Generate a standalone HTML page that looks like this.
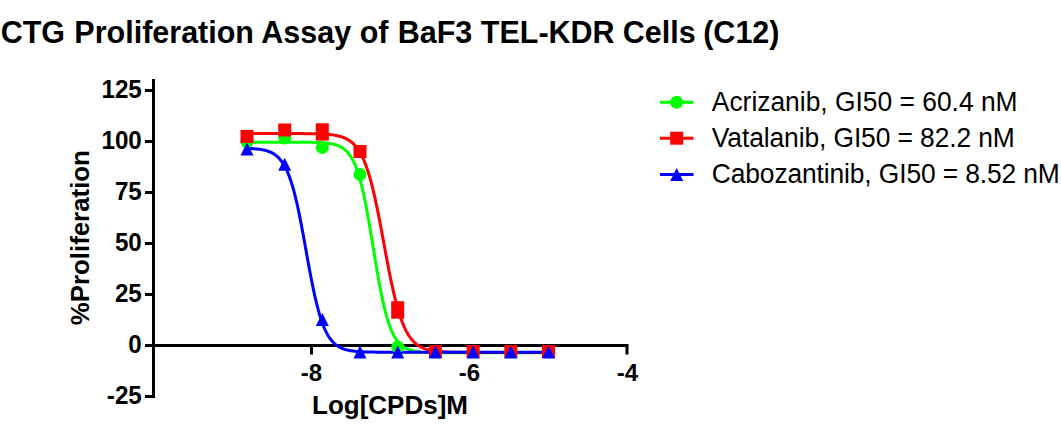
<!DOCTYPE html>
<html><head><meta charset="utf-8"><style>
html,body{margin:0;padding:0;background:#fff;width:1061px;height:428px;overflow:hidden}
svg{display:block}
text{font-family:"Liberation Sans",sans-serif;fill:#000}
.b{font-weight:bold}
</style></head><body>
<svg width="1061" height="428" viewBox="0 0 1061 428">
<text x="0.7" y="43.3" class="b" font-size="30.5">CTG<tspan dx="0.8"> Proliferation Assay of</tspan><tspan dx="0.8"> BaF3 TEL-KDR</tspan><tspan dx="-0.4"> Cells</tspan><tspan dx="-0.9"> (C12)</tspan></text>
<path d="M153.5,79 V398 M145,90.5 H153.5 M145,141.5 H153.5 M145,192.5 H153.5 M145,243.5 H153.5 M145,294.5 H153.5 M145,345.5 H153.5 M145,396.5 H153.5" stroke="#000" stroke-width="3" fill="none" stroke-linecap="butt"/>
<path d="M152,345.5 H628.5 M311.5,345.5 V354.5 M469.5,345.5 V354.5 M627,345.5 V354.5" stroke="#000" stroke-width="3" fill="none"/>
<text transform="translate(141.8,97.80) scale(1,1.03)" class="b" font-size="24.2" text-anchor="end">125</text>
<text transform="translate(141.8,148.80) scale(1,1.03)" class="b" font-size="24.2" text-anchor="end">100</text>
<text transform="translate(141.8,199.80) scale(1,1.03)" class="b" font-size="24.2" text-anchor="end">75</text>
<text transform="translate(141.8,250.80) scale(1,1.03)" class="b" font-size="24.2" text-anchor="end">50</text>
<text transform="translate(141.8,301.80) scale(1,1.03)" class="b" font-size="24.2" text-anchor="end">25</text>
<text transform="translate(141.8,352.80) scale(1,1.03)" class="b" font-size="24.2" text-anchor="end">0</text>
<text transform="translate(141.8,403.80) scale(1,1.03)" class="b" font-size="24.2" text-anchor="end">-25</text>
<text x="311.5" y="380.5" class="b" font-size="24" text-anchor="middle">-8</text>
<text x="469.5" y="380.5" class="b" font-size="24" text-anchor="middle">-6</text>
<text x="627.5" y="380.5" class="b" font-size="24" text-anchor="middle">-4</text>
<text x="390" y="413.8" class="b" font-size="26" text-anchor="middle">Log[CPDs]M</text>
<text transform="translate(88.5,237.7) rotate(-90)" class="b" font-size="25.85" text-anchor="middle">%Proliferation</text>
<path d="M246.96,142.21 L247.96,142.21 L248.97,142.21 L249.97,142.21 L250.98,142.21 L251.99,142.21 L252.99,142.21 L254.00,142.21 L255.00,142.21 L256.01,142.21 L257.01,142.21 L258.02,142.21 L259.02,142.21 L260.03,142.21 L261.03,142.21 L262.04,142.21 L263.04,142.21 L264.05,142.21 L265.05,142.21 L266.06,142.21 L267.06,142.21 L268.07,142.22 L269.07,142.22 L270.08,142.22 L271.08,142.22 L272.09,142.22 L273.09,142.22 L274.10,142.22 L275.10,142.22 L276.11,142.22 L277.11,142.22 L278.12,142.22 L279.12,142.22 L280.13,142.22 L281.13,142.22 L282.14,142.22 L283.14,142.22 L284.15,142.22 L285.15,142.22 L286.16,142.22 L287.16,142.22 L288.17,142.22 L289.18,142.23 L290.18,142.23 L291.19,142.23 L292.19,142.23 L293.20,142.23 L294.20,142.24 L295.21,142.24 L296.21,142.24 L297.22,142.24 L298.22,142.25 L299.23,142.25 L300.23,142.26 L301.24,142.26 L302.24,142.27 L303.25,142.27 L304.25,142.28 L305.26,142.29 L306.26,142.30 L307.27,142.31 L308.27,142.32 L309.28,142.34 L310.28,142.35 L311.29,142.37 L312.29,142.39 L313.30,142.41 L314.30,142.43 L315.31,142.46 L316.31,142.49 L317.32,142.53 L318.32,142.56 L319.33,142.61 L320.33,142.66 L321.34,142.71 L322.34,142.77 L323.35,142.84 L324.35,142.92 L325.36,143.01 L326.37,143.11 L327.37,143.22 L328.38,143.34 L329.38,143.48 L330.39,143.64 L331.39,143.81 L332.40,144.01 L333.40,144.23 L334.41,144.48 L335.41,144.75 L336.42,145.07 L337.42,145.42 L338.43,145.81 L339.43,146.24 L340.44,146.74 L341.44,147.28 L342.45,147.90 L343.45,148.58 L344.46,149.35 L345.46,150.20 L346.47,151.15 L347.47,152.21 L348.48,153.39 L349.48,154.69 L350.49,156.14 L351.49,157.75 L352.50,159.52 L353.50,161.47 L354.51,163.62 L355.51,165.99 L356.52,168.57 L357.52,171.39 L358.53,174.47 L359.53,177.80 L360.54,181.40 L361.54,185.28 L362.55,189.43 L363.56,193.86 L364.56,198.56 L365.57,203.53 L366.57,208.75 L367.58,214.19 L368.58,219.84 L369.59,225.67 L370.59,231.64 L371.60,237.72 L372.60,243.86 L373.61,250.03 L374.61,256.18 L375.62,262.27 L376.62,268.27 L377.63,274.12 L378.63,279.81 L379.64,285.30 L380.64,290.56 L381.65,295.57 L382.65,300.33 L383.66,304.81 L384.66,309.02 L385.67,312.94 L386.67,316.60 L387.68,319.98 L388.68,323.10 L389.69,325.97 L390.69,328.60 L391.70,331.00 L392.70,333.19 L393.71,335.18 L394.71,336.99 L395.72,338.62 L396.72,340.10 L397.73,341.43 L398.73,342.63 L399.74,343.71 L400.75,344.69 L401.75,345.56 L402.76,346.34 L403.76,347.04 L404.77,347.66 L405.77,348.22 L406.78,348.72 L407.78,349.17 L408.79,349.57 L409.79,349.93 L410.80,350.25 L411.80,350.53 L412.81,350.78 L413.81,351.01 L414.82,351.21 L415.82,351.39 L416.83,351.55 L417.83,351.69 L418.84,351.82 L419.84,351.93 L420.85,352.03 L421.85,352.12 L422.86,352.20 L423.86,352.27 L424.87,352.34 L425.87,352.39 L426.88,352.44 L427.88,352.49 L428.89,352.53 L429.89,352.56 L430.90,352.59 L431.90,352.62 L432.91,352.64 L433.91,352.67 L434.92,352.69 L435.92,352.70 L436.93,352.72 L437.94,352.73 L438.94,352.75 L439.95,352.76 L440.95,352.77 L441.96,352.77 L442.96,352.78 L443.97,352.79 L444.97,352.80 L445.98,352.80 L446.98,352.81 L447.99,352.81 L448.99,352.81 L450.00,352.82 L451.00,352.82 L452.01,352.82 L453.01,352.82 L454.02,352.83 L455.02,352.83 L456.03,352.83 L457.03,352.83 L458.04,352.83 L459.04,352.83 L460.05,352.84 L461.05,352.84 L462.06,352.84 L463.06,352.84 L464.07,352.84 L465.07,352.84 L466.08,352.84 L467.08,352.84 L468.09,352.84 L469.09,352.84 L470.10,352.84 L471.10,352.84 L472.11,352.84 L473.11,352.84 L474.12,352.84 L475.13,352.84 L476.13,352.84 L477.14,352.84 L478.14,352.84 L479.15,352.84 L480.15,352.84 L481.16,352.84 L482.16,352.84 L483.17,352.84 L484.17,352.84 L485.18,352.84 L486.18,352.84 L487.19,352.84 L488.19,352.84 L489.20,352.84 L490.20,352.84 L491.21,352.84 L492.21,352.84 L493.22,352.84 L494.22,352.84 L495.23,352.84 L496.23,352.84 L497.24,352.84 L498.24,352.84 L499.25,352.84 L500.25,352.84 L501.26,352.84 L502.26,352.84 L503.27,352.84 L504.27,352.84 L505.28,352.84 L506.28,352.84 L507.29,352.84 L508.29,352.84 L509.30,352.84 L510.30,352.84 L511.31,352.84 L512.32,352.84 L513.32,352.84 L514.33,352.84 L515.33,352.84 L516.34,352.84 L517.34,352.84 L518.35,352.84 L519.35,352.84 L520.36,352.84 L521.36,352.84 L522.37,352.84 L523.37,352.84 L524.38,352.84 L525.38,352.84 L526.39,352.84 L527.39,352.84 L528.40,352.84 L529.40,352.84 L530.41,352.84 L531.41,352.84 L532.42,352.84 L533.42,352.84 L534.43,352.84 L535.43,352.84 L536.44,352.84 L537.44,352.84 L538.45,352.84 L539.45,352.84 L540.46,352.84 L541.46,352.84 L542.47,352.84 L543.47,352.84 L544.48,352.84 L545.48,352.84 L546.49,352.84 L547.49,352.84 L548.50,352.84" stroke="#00ff00" stroke-width="3" fill="none"/>
<path d="M246.96,133.54 L247.96,133.54 L248.97,133.54 L249.97,133.54 L250.98,133.54 L251.99,133.54 L252.99,133.54 L254.00,133.54 L255.00,133.54 L256.01,133.54 L257.01,133.54 L258.02,133.54 L259.02,133.54 L260.03,133.55 L261.03,133.55 L262.04,133.55 L263.04,133.55 L264.05,133.55 L265.05,133.55 L266.06,133.55 L267.06,133.55 L268.07,133.55 L269.07,133.55 L270.08,133.55 L271.08,133.55 L272.09,133.55 L273.09,133.55 L274.10,133.55 L275.10,133.55 L276.11,133.55 L277.11,133.55 L278.12,133.55 L279.12,133.55 L280.13,133.55 L281.13,133.55 L282.14,133.55 L283.14,133.55 L284.15,133.56 L285.15,133.56 L286.16,133.56 L287.16,133.56 L288.17,133.56 L289.18,133.56 L290.18,133.56 L291.19,133.57 L292.19,133.57 L293.20,133.57 L294.20,133.57 L295.21,133.58 L296.21,133.58 L297.22,133.59 L298.22,133.59 L299.23,133.59 L300.23,133.60 L301.24,133.61 L302.24,133.61 L303.25,133.62 L304.25,133.63 L305.26,133.64 L306.26,133.64 L307.27,133.66 L308.27,133.67 L309.28,133.68 L310.28,133.69 L311.29,133.71 L312.29,133.73 L313.30,133.75 L314.30,133.77 L315.31,133.79 L316.31,133.82 L317.32,133.85 L318.32,133.88 L319.33,133.91 L320.33,133.95 L321.34,133.99 L322.34,134.04 L323.35,134.09 L324.35,134.15 L325.36,134.21 L326.37,134.28 L327.37,134.36 L328.38,134.44 L329.38,134.54 L330.39,134.64 L331.39,134.75 L332.40,134.88 L333.40,135.02 L334.41,135.17 L335.41,135.34 L336.42,135.53 L337.42,135.73 L338.43,135.96 L339.43,136.21 L340.44,136.49 L341.44,136.79 L342.45,137.12 L343.45,137.49 L344.46,137.90 L345.46,138.34 L346.47,138.84 L347.47,139.37 L348.48,139.97 L349.48,140.62 L350.49,141.33 L351.49,142.12 L352.50,142.98 L353.50,143.92 L354.51,144.95 L355.51,146.07 L356.52,147.30 L357.52,148.64 L358.53,150.11 L359.53,151.70 L360.54,153.43 L361.54,155.30 L362.55,157.33 L363.56,159.53 L364.56,161.90 L365.57,164.45 L366.57,167.19 L367.58,170.12 L368.58,173.26 L369.59,176.60 L370.59,180.15 L371.60,183.91 L372.60,187.87 L373.61,192.04 L374.61,196.41 L375.62,200.96 L376.62,205.70 L377.63,210.59 L378.63,215.64 L379.64,220.81 L380.64,226.08 L381.65,231.44 L382.65,236.86 L383.66,242.30 L384.66,247.75 L385.67,253.17 L386.67,258.55 L387.68,263.85 L388.68,269.04 L389.69,274.12 L390.69,279.06 L391.70,283.83 L392.70,288.44 L393.71,292.85 L394.71,297.07 L395.72,301.09 L396.72,304.90 L397.73,308.50 L398.73,311.90 L399.74,315.08 L400.75,318.07 L401.75,320.86 L402.76,323.46 L403.76,325.87 L404.77,328.11 L405.77,330.18 L406.78,332.09 L407.78,333.86 L408.79,335.48 L409.79,336.98 L410.80,338.35 L411.80,339.61 L412.81,340.76 L413.81,341.81 L414.82,342.77 L415.82,343.65 L416.83,344.46 L417.83,345.19 L418.84,345.85 L419.84,346.46 L420.85,347.01 L421.85,347.52 L422.86,347.97 L423.86,348.39 L424.87,348.77 L425.87,349.11 L426.88,349.42 L427.88,349.70 L428.89,349.96 L429.89,350.19 L430.90,350.40 L431.90,350.59 L432.91,350.77 L433.91,350.92 L434.92,351.07 L435.92,351.20 L436.93,351.31 L437.94,351.42 L438.94,351.51 L439.95,351.60 L440.95,351.68 L441.96,351.75 L442.96,351.82 L443.97,351.87 L444.97,351.93 L445.98,351.98 L446.98,352.02 L447.99,352.06 L448.99,352.09 L450.00,352.13 L451.00,352.16 L452.01,352.18 L453.01,352.21 L454.02,352.23 L455.02,352.25 L456.03,352.27 L457.03,352.28 L458.04,352.30 L459.04,352.31 L460.05,352.32 L461.05,352.33 L462.06,352.34 L463.06,352.35 L464.07,352.36 L465.07,352.37 L466.08,352.37 L467.08,352.38 L468.09,352.38 L469.09,352.39 L470.10,352.39 L471.10,352.40 L472.11,352.40 L473.11,352.40 L474.12,352.41 L475.13,352.41 L476.13,352.41 L477.14,352.41 L478.14,352.42 L479.15,352.42 L480.15,352.42 L481.16,352.42 L482.16,352.42 L483.17,352.42 L484.17,352.43 L485.18,352.43 L486.18,352.43 L487.19,352.43 L488.19,352.43 L489.20,352.43 L490.20,352.43 L491.21,352.43 L492.21,352.43 L493.22,352.43 L494.22,352.43 L495.23,352.43 L496.23,352.43 L497.24,352.43 L498.24,352.43 L499.25,352.43 L500.25,352.43 L501.26,352.43 L502.26,352.43 L503.27,352.43 L504.27,352.43 L505.28,352.43 L506.28,352.43 L507.29,352.43 L508.29,352.44 L509.30,352.44 L510.30,352.44 L511.31,352.44 L512.32,352.44 L513.32,352.44 L514.33,352.44 L515.33,352.44 L516.34,352.44 L517.34,352.44 L518.35,352.44 L519.35,352.44 L520.36,352.44 L521.36,352.44 L522.37,352.44 L523.37,352.44 L524.38,352.44 L525.38,352.44 L526.39,352.44 L527.39,352.44 L528.40,352.44 L529.40,352.44 L530.41,352.44 L531.41,352.44 L532.42,352.44 L533.42,352.44 L534.43,352.44 L535.43,352.44 L536.44,352.44 L537.44,352.44 L538.45,352.44 L539.45,352.44 L540.46,352.44 L541.46,352.44 L542.47,352.44 L543.47,352.44 L544.48,352.44 L545.48,352.44 L546.49,352.44 L547.49,352.44 L548.50,352.44" stroke="#ff0000" stroke-width="3" fill="none"/>
<path d="M246.96,148.35 L247.96,148.39 L248.97,148.43 L249.97,148.48 L250.98,148.53 L251.99,148.59 L252.99,148.65 L254.00,148.72 L255.00,148.80 L256.01,148.89 L257.01,148.99 L258.02,149.10 L259.02,149.23 L260.03,149.37 L261.03,149.52 L262.04,149.69 L263.04,149.88 L264.05,150.10 L265.05,150.33 L266.06,150.60 L267.06,150.89 L268.07,151.22 L269.07,151.58 L270.08,151.99 L271.08,152.44 L272.09,152.94 L273.09,153.49 L274.10,154.11 L275.10,154.79 L276.11,155.55 L277.11,156.39 L278.12,157.31 L279.12,158.34 L280.13,159.47 L281.13,160.71 L282.14,162.08 L283.14,163.59 L284.15,165.25 L285.15,167.06 L286.16,169.04 L287.16,171.21 L288.17,173.56 L289.18,176.12 L290.18,178.89 L291.19,181.88 L292.19,185.09 L293.20,188.54 L294.20,192.23 L295.21,196.15 L296.21,200.31 L297.22,204.70 L298.22,209.30 L299.23,214.12 L300.23,219.12 L301.24,224.29 L302.24,229.61 L303.25,235.05 L304.25,240.57 L305.26,246.15 L306.26,251.76 L307.27,257.36 L308.27,262.91 L309.28,268.39 L310.28,273.76 L311.29,279.00 L312.29,284.07 L313.30,288.97 L314.30,293.66 L315.31,298.14 L316.31,302.39 L317.32,306.42 L318.32,310.20 L319.33,313.75 L320.33,317.07 L321.34,320.15 L322.34,323.01 L323.35,325.65 L324.35,328.09 L325.36,330.33 L326.37,332.39 L327.37,334.27 L328.38,335.99 L329.38,337.56 L330.39,338.99 L331.39,340.29 L332.40,341.46 L333.40,342.53 L334.41,343.50 L335.41,344.37 L336.42,345.16 L337.42,345.87 L338.43,346.52 L339.43,347.10 L340.44,347.62 L341.44,348.09 L342.45,348.51 L343.45,348.89 L344.46,349.23 L345.46,349.54 L346.47,349.82 L347.47,350.07 L348.48,350.29 L349.48,350.49 L350.49,350.67 L351.49,350.83 L352.50,350.98 L353.50,351.11 L354.51,351.22 L355.51,351.33 L356.52,351.42 L357.52,351.51 L358.53,351.58 L359.53,351.65 L360.54,351.71 L361.54,351.76 L362.55,351.81 L363.56,351.86 L364.56,351.89 L365.57,351.93 L366.57,351.96 L367.58,351.99 L368.58,352.01 L369.59,352.04 L370.59,352.06 L371.60,352.08 L372.60,352.09 L373.61,352.11 L374.61,352.12 L375.62,352.13 L376.62,352.14 L377.63,352.15 L378.63,352.16 L379.64,352.17 L380.64,352.17 L381.65,352.18 L382.65,352.19 L383.66,352.19 L384.66,352.19 L385.67,352.20 L386.67,352.20 L387.68,352.20 L388.68,352.21 L389.69,352.21 L390.69,352.21 L391.70,352.21 L392.70,352.22 L393.71,352.22 L394.71,352.22 L395.72,352.22 L396.72,352.22 L397.73,352.22 L398.73,352.22 L399.74,352.22 L400.75,352.23 L401.75,352.23 L402.76,352.23 L403.76,352.23 L404.77,352.23 L405.77,352.23 L406.78,352.23 L407.78,352.23 L408.79,352.23 L409.79,352.23 L410.80,352.23 L411.80,352.23 L412.81,352.23 L413.81,352.23 L414.82,352.23 L415.82,352.23 L416.83,352.23 L417.83,352.23 L418.84,352.23 L419.84,352.23 L420.85,352.23 L421.85,352.23 L422.86,352.23 L423.86,352.23 L424.87,352.23 L425.87,352.23 L426.88,352.23 L427.88,352.23 L428.89,352.23 L429.89,352.23 L430.90,352.23 L431.90,352.23 L432.91,352.23 L433.91,352.23 L434.92,352.23 L435.92,352.23 L436.93,352.23 L437.94,352.23 L438.94,352.23 L439.95,352.23 L440.95,352.23 L441.96,352.23 L442.96,352.23 L443.97,352.23 L444.97,352.23 L445.98,352.23 L446.98,352.23 L447.99,352.23 L448.99,352.23 L450.00,352.23 L451.00,352.23 L452.01,352.23 L453.01,352.23 L454.02,352.23 L455.02,352.23 L456.03,352.23 L457.03,352.23 L458.04,352.23 L459.04,352.23 L460.05,352.23 L461.05,352.23 L462.06,352.23 L463.06,352.23 L464.07,352.23 L465.07,352.23 L466.08,352.23 L467.08,352.23 L468.09,352.23 L469.09,352.23 L470.10,352.23 L471.10,352.23 L472.11,352.23 L473.11,352.23 L474.12,352.23 L475.13,352.23 L476.13,352.23 L477.14,352.23 L478.14,352.23 L479.15,352.23 L480.15,352.23 L481.16,352.23 L482.16,352.23 L483.17,352.23 L484.17,352.23 L485.18,352.23 L486.18,352.23 L487.19,352.23 L488.19,352.23 L489.20,352.23 L490.20,352.23 L491.21,352.23 L492.21,352.23 L493.22,352.23 L494.22,352.23 L495.23,352.23 L496.23,352.23 L497.24,352.23 L498.24,352.23 L499.25,352.23 L500.25,352.23 L501.26,352.23 L502.26,352.23 L503.27,352.23 L504.27,352.23 L505.28,352.23 L506.28,352.23 L507.29,352.23 L508.29,352.23 L509.30,352.23 L510.30,352.23 L511.31,352.23 L512.32,352.23 L513.32,352.23 L514.33,352.23 L515.33,352.23 L516.34,352.23 L517.34,352.23 L518.35,352.23 L519.35,352.23 L520.36,352.23 L521.36,352.23 L522.37,352.23 L523.37,352.23 L524.38,352.23 L525.38,352.23 L526.39,352.23 L527.39,352.23 L528.40,352.23 L529.40,352.23 L530.41,352.23 L531.41,352.23 L532.42,352.23 L533.42,352.23 L534.43,352.23 L535.43,352.23 L536.44,352.23 L537.44,352.23 L538.45,352.23 L539.45,352.23 L540.46,352.23 L541.46,352.23 L542.47,352.23 L543.47,352.23 L544.48,352.23 L545.48,352.23 L546.49,352.23 L547.49,352.23 L548.50,352.23" stroke="#0000ff" stroke-width="3" fill="none"/>
<circle cx="247.0" cy="142.0" r="6.5" fill="#00ff00"/>
<circle cx="284.7" cy="138.0" r="6.5" fill="#00ff00"/>
<circle cx="322.3" cy="147.5" r="6.5" fill="#00ff00"/>
<circle cx="360.0" cy="174.5" r="6.5" fill="#00ff00"/>
<circle cx="397.7" cy="347.0" r="6.5" fill="#00ff00"/>
<circle cx="435.4" cy="351.3" r="6.5" fill="#00ff00"/>
<circle cx="473.1" cy="351.3" r="6.5" fill="#00ff00"/>
<circle cx="510.8" cy="351.3" r="6.5" fill="#00ff00"/>
<circle cx="548.5" cy="351.3" r="6.5" fill="#00ff00"/>
<rect x="240.5" y="129.9" width="13" height="13" fill="#ff0000"/>
<rect x="278.2" y="123.5" width="13" height="13" fill="#ff0000"/>
<rect x="315.8" y="123.3" width="13" height="17.3" fill="#ff0000"/>
<rect x="353.5" y="145.0" width="13" height="13" fill="#ff0000"/>
<rect x="391.2" y="301.2" width="13" height="17.5" fill="#ff0000"/>
<rect x="428.9" y="345.0" width="13" height="13" fill="#ff0000"/>
<rect x="466.6" y="345.0" width="13" height="13" fill="#ff0000"/>
<rect x="504.3" y="345.0" width="13" height="13" fill="#ff0000"/>
<rect x="542.0" y="345.0" width="13" height="13" fill="#ff0000"/>
<path d="M247.0,142.5 L253.5,155.5 L240.5,155.5 Z" fill="#0000ff"/>
<path d="M284.7,157.7 L291.2,170.7 L278.2,170.7 Z" fill="#0000ff"/>
<path d="M322.3,313.0 L328.8,326.0 L315.8,326.0 Z" fill="#0000ff"/>
<path d="M360.0,345.5 L366.5,358.5 L353.5,358.5 Z" fill="#0000ff"/>
<path d="M397.7,345.5 L404.2,358.5 L391.2,358.5 Z" fill="#0000ff"/>
<path d="M435.4,345.5 L441.9,358.5 L428.9,358.5 Z" fill="#0000ff"/>
<path d="M473.1,345.5 L479.6,358.5 L466.6,358.5 Z" fill="#0000ff"/>
<path d="M510.8,345.5 L517.3,358.5 L504.3,358.5 Z" fill="#0000ff"/>
<path d="M548.5,345.5 L555.0,358.5 L542.0,358.5 Z" fill="#0000ff"/>
<path d="M660,102.2 H693.5" stroke="#00ff00" stroke-width="3"/>
<circle cx="676.7" cy="102.2" r="6.5" fill="#00ff00"/>
<text transform="translate(711.8,110.80) scale(1,1.05)" font-size="26.4" textLength="305.8" lengthAdjust="spacing">Acrizanib, GI50 = 60.4 nM</text>
<path d="M660,138.2 H693.5" stroke="#ff0000" stroke-width="3"/>
<rect x="670.2" y="131.7" width="13" height="13" fill="#ff0000"/>
<text transform="translate(711.8,146.80) scale(1,1.05)" font-size="26.4" textLength="303" lengthAdjust="spacing">Vatalanib, GI50 = 82.2 nM</text>
<path d="M660,174.4 H693.5" stroke="#0000ff" stroke-width="3"/>
<path d="M676.7,167.9 L683.2,180.9 L670.2,180.9 Z" fill="#0000ff"/>
<text transform="translate(711.8,183.00) scale(1,1.05)" font-size="26.4" textLength="348" lengthAdjust="spacing">Cabozantinib, GI50 = 8.52 nM</text>
</svg>
</body></html>
